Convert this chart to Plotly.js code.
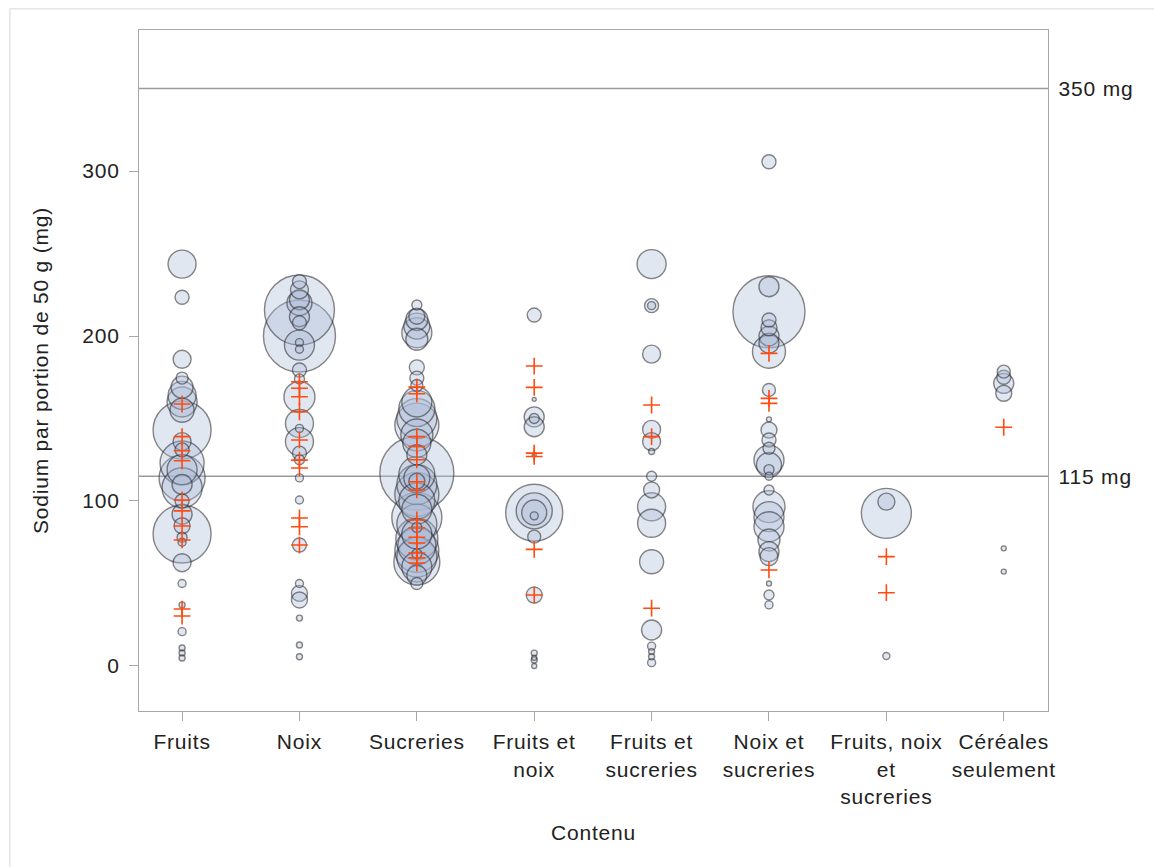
<!DOCTYPE html>
<html>
<head>
<meta charset="utf-8">
<script src="https://cdn.plot.ly/plotly-3.0.1.min.js"></script>
<style>
html,body{margin:0;padding:0;background:#fff;}
#chart{width:1154px;height:867px;}
#chart svg text{letter-spacing:0.8px;}
</style>
</head>
<body>
<div id="chart"></div>
<script>
// Categories (x axis)
const categories = ["Fruits", "Noix", "Sucreries", "Fruits et noix", "Fruits et sucreries", "Noix et sucreries", "Fruits, noix et sucreries", "Céréales seulement"];
const tickLabels = ["Fruits", "Noix", "Sucreries", "Fruits et<br>noix", "Fruits et<br>sucreries", "Noix et<br>sucreries", "Fruits, noix<br>et<br>sucreries", "Céréales<br>seulement"];

// Bubble sodium values (mg per 50 g) for each category, with bubble size values
const fruitsY = [243.6,223.5,185.9,174.5,169,164,160,155,143,136,131,123,119,114,110,108,100,92,85,80,78,75,62.6,50,37,20.8,10.9,7.9,4.8];
const fruitsN = [28,14,18,12,22,28,30,24,58,18,14,44,30,46,20,40,14,20,16,58,10,8,18,8,6,8,6,6,6];
const noixY = [233,228,222,220,215.8,211.7,208,200,194.5,196,192,179.4,174,163,147,144,136,129,125,114,100.6,73.3,50,44,40,29,12.7,5.6];
const noixN = [14,18,20,25,70,20,14,72,30,8,8,14,10,31,28,8,28,14,10,8,8,14,8,16,16,6,6,6];
const sucreriesY = [218.8,212,210,206,202,198,181,174.5,170,160,156,150,146,140,135,128,116.8,116,114,112,110,104,100,95,90,86,84,80,77,73,70,68,66,63,60,55,50];
const sucreriesN = [10,16,22,26,30,22,15,14,12,30,36,40,44,32,28,20,74,36,26,16,40,44,36,30,50,40,10,30,42,38,44,10,40,46,30,20,12];
const fruitsNoixY = [212.7,161.6,151,150,145,128,92.9,94,93,91,78.4,43,7.8,5,3.6,0];
const fruitsNoixN = [14,4,20,10,20,4,57,36,25,8,13,16,6,5,6,5];
const fruitsSucreriesY = [243.6,218.4,218.4,189,143.4,136,130,115,106.7,96.5,86.5,63.2,21.8,12,8.7,5.6,2];
const fruitsSucreriesN = [29,14,8,18,18,18,6,10,16,28,28,24,20,8,6,6,8];
const noixSucreriesY = [305.6,229.9,214.7,209.7,205,200,195.7,190.5,167.3,149.5,143,137,132,124.8,121.8,119,115,106.7,96.6,90.5,84.4,76.4,69.3,66.3,50,43,37];
const noixSucreriesN = [14,20,72,14,16,20,20,33,13,5,16,14,12,30,25,10,8,10,32,30,30,22,20,18,5,10,8];
const troisY = [92.5,99.6,6];
const troisN = [50,17,7];
const cerealesY = [178.4,175,171.3,165.3,71.3,57.2];
const cerealesN = [13,14,20,16,5,5];

// Red "+" marks (sodium values)
const fruitsPlus = [158.8,139,130.5,124.4,100.6,94,84.8,76.4,34.5,30.3];
const noixPlus = [172.3,168.3,163.2,154.1,137,124.8,120,89.7,84.4,73.3];
const sucreriesPlus = [169,165,139,133,125,111.7,106.7,88.5,83.6,78,74.5,68.5,65.5,62.4];
const fruitsNoixPlus = [181.8,168.9,129,127,70.7,43];
const fruitsSucreriesPlus = [158.2,139,35];
const noixSucreriesPlus = [189.5,162.2,159.2,58.2];
const troisPlus = [66.3,44.4];
const cerealesPlus = [144.7];

// Reference levels
const refLevels = [350, 115];
const refLabels = ["350 mg", "115 mg"];

const bubbleY = [fruitsY, noixY, sucreriesY, fruitsNoixY, fruitsSucreriesY, noixSucreriesY, troisY, cerealesY];
const bubbleN = [fruitsN, noixN, sucreriesN, fruitsNoixN, fruitsSucreriesN, noixSucreriesN, troisN, cerealesN];
const plusY = [fruitsPlus, noixPlus, sucreriesPlus, fruitsNoixPlus, fruitsSucreriesPlus, noixSucreriesPlus, troisPlus, cerealesPlus];

// build bubble points, largest drawn first
let pts = [];
categories.forEach((c, i) => {
  bubbleY[i].forEach((v, j) => pts.push({x: c, y: v, s: bubbleN[i][j]}));
});
pts.sort((a, b) => b.s - a.s);

const px = [], py = [];
categories.forEach((c, i) => plusY[i].forEach(v => { px.push(c); py.push(v); }));

const font = {family: "Liberation Sans, Arial, sans-serif", size: 21, color: "#222"};

const traces = [
  {
    type: "scatter", mode: "markers",
    x: pts.map(p => p.x), y: pts.map(p => p.y),
    marker: {size: pts.map(p => p.s), sizemode: "diameter", sizeref: 1,
      color: "rgba(172,188,216,0.5)", line: {color: "rgba(50,50,55,0.85)", width: 1.4}},
    hoverinfo: "y", showlegend: false
  },
  {
    type: "scatter", mode: "markers",
    x: px, y: py,
    marker: {symbol: "cross-thin-open", size: 12, color: "#ff4a10", line: {color: "#ff4a10", width: 1.6}},
    hoverinfo: "y", showlegend: false
  }
];

const shapes = refLevels.map(v => ({type: "line", xref: "paper", yref: "y", x0: 0, x1: 1, y0: v, y1: v,
  line: {color: "#9a9a9a", width: 1.5}, layer: "below"}));
shapes.push({type: "rect", xref: "paper", yref: "paper", x0: -0.142, x1: 1.2, y0: -0.3, y1: 1.031,
  line: {color: "#d6d6d6", width: 1}, layer: "below"});

const annotations = refLevels.map((v, i) => ({xref: "paper", yref: "y", x: 1, y: v, xanchor: "left", yanchor: "middle",
  xshift: 11, text: refLabels[i], showarrow: false, font: font}));

const layout = {
  width: 1154, height: 867,
  margin: {l: 139, r: 106, t: 30, b: 156},
  paper_bgcolor: "#fff", plot_bgcolor: "#fff",
  font: font,
  xaxis: {
    type: "category", categoryorder: "array", categoryarray: categories,
    tickvals: categories, ticktext: tickLabels,
    range: [-0.367, 7.377],
    showgrid: false, zeroline: false,
    showline: true, mirror: true, linecolor: "#a8a8a8", linewidth: 1,
    ticks: "outside", ticklen: 9, tickcolor: "#a8a8a8",
    ticklabelstandoff: 3,
    tickfont: font,
    title: {text: "Contenu", font: font, standoff: 18}
  },
  yaxis: {
    range: [-27.3, 385.5],
    tickvals: [0, 100, 200, 300],
    showgrid: false, zeroline: false,
    showline: true, mirror: true, linecolor: "#a8a8a8", linewidth: 1,
    ticks: "outside", ticklen: 9, tickcolor: "#a8a8a8",
    ticklabelstandoff: 5,
    tickfont: font,
    title: {text: "Sodium par portion de 50 g (mg)", font: font, standoff: 30}
  },
  shapes: shapes,
  annotations: annotations
};

Plotly.newPlot("chart", traces, layout, {displayModeBar: false, staticPlot: true});
</script>
</body>
</html>
